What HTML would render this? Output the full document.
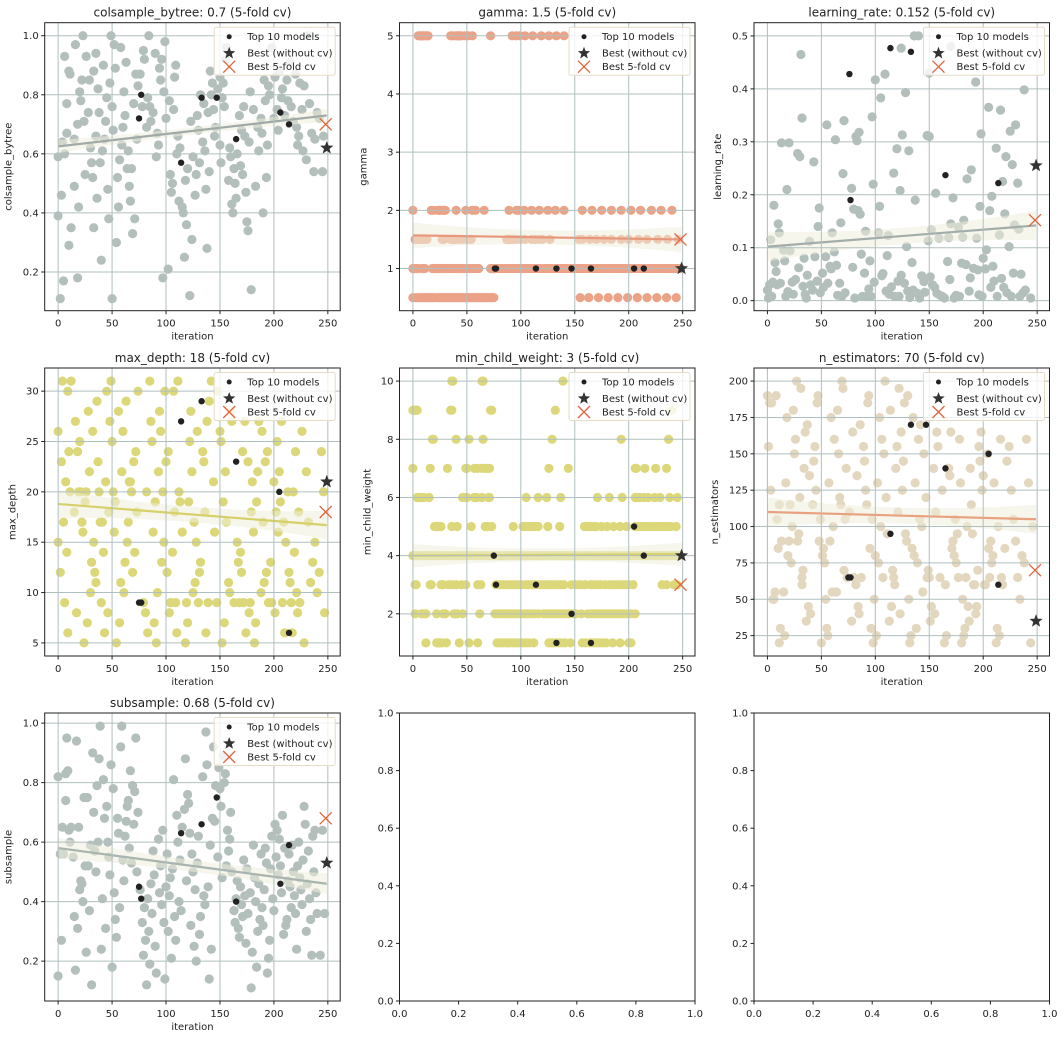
<!DOCTYPE html>
<html><head><meta charset="utf-8">
<style>
html,body{margin:0;padding:0;background:#fff;}
svg{display:block;font-family:"DejaVu Sans","Liberation Sans",sans-serif;}
</style></head>
<body>
<svg id="fig" width="1064" height="1039" viewBox="0 0 1064 1039" xmlns="http://www.w3.org/2000/svg"></svg>
<script>
// ---------- data ----------
const xTicks = [0,50,100,150,200,250];
const p1Points = [[0,0.39],[0,0.59],[2,0.11],[3,0.46],[4,0.64],[5,0.17],[6,0.93],[6,0.60],[8,0.77],[8,0.67],[10,0.29],[10,0.88],[11,0.87],[12,0.35],[15,0.65],[15,0.49],[16,0.97],[18,0.70],[18,0.18],[19,0.42],[20,0.81],[21,0.78],[22,0.85],[23,1.0],[24,0.71],[25,0.53],[26,0.93],[28,0.74],[29,0.85],[30,0.62],[31,0.57],[32,0.52],[33,0.88],[33,0.35],[35,0.94],[35,0.66],[36,0.45],[37,0.82],[38,0.74],[39,0.57],[40,0.24],[41,0.61],[42,0.90],[43,0.65],[44,0.71],[45,0.79],[46,0.48],[47,0.38],[48,0.84],[49,1.0],[50,0.76],[50,0.11],[51,0.68],[52,0.97],[53,0.89],[54,0.30],[55,0.52],[56,0.42],[57,0.58],[58,0.96],[59,0.63],[60,0.69],[61,0.81],[62,0.73],[63,0.91],[64,0.55],[65,0.61],[66,0.49],[67,0.44],[68,0.55],[69,0.33],[70,0.77],[71,0.38],[72,0.87],[73,0.65],[74,0.83],[76,0.87],[78,0.76],[79,0.95],[80,0.92],[82,0.69],[83,0.79],[84,1.0],[85,0.76],[86,0.71],[88,0.74],[90,0.94],[91,0.59],[92,0.67],[93,0.63],[94,0.89],[95,0.85],[96,0.92],[97,0.18],[98,0.81],[99,0.98],[100,0.72],[102,0.21],[103,0.78],[104,0.53],[105,0.47],[106,0.50],[107,0.75],[108,0.86],[109,0.90],[110,0.60],[111,0.66],[112,0.44],[113,0.62],[115,0.42],[116,0.40],[117,0.25],[118,0.51],[119,0.36],[120,0.55],[122,0.12],[123,0.71],[124,0.31],[125,0.59],[127,0.46],[128,0.53],[129,0.73],[130,0.68],[131,0.57],[132,0.80],[134,0.64],[135,0.77],[136,0.61],[137,0.48],[138,0.28],[139,0.74],[140,0.54],[141,0.88],[142,0.80],[143,0.84],[144,0.75],[145,0.66],[146,0.69],[148,0.82],[150,0.86],[150,0.63],[151,0.57],[152,0.79],[153,0.84],[154,0.76],[155,0.92],[156,0.96],[158,0.51],[159,0.62],[160,0.59],[161,0.43],[162,0.40],[163,0.55],[164,0.50],[165,0.45],[166,0.60],[168,0.73],[169,0.56],[170,0.68],[171,0.53],[172,0.76],[173,0.66],[174,0.47],[175,0.37],[176,0.34],[177,0.64],[178,0.81],[179,0.14],[181,0.75],[183,0.49],[185,0.69],[186,0.61],[188,0.72],[189,0.67],[190,0.40],[191,0.85],[192,0.78],[193,0.52],[194,0.63],[195,0.83],[196,0.80],[198,0.96],[200,0.72],[201,0.86],[203,0.75],[204,0.68],[205,0.88],[207,0.79],[208,0.82],[210,0.73],[212,0.85],[213,0.78],[215,0.91],[216,0.76],[218,0.71],[220,0.87],[221,0.69],[222,0.63],[223,0.66],[224,0.84],[226,0.75],[227,0.61],[228,0.83],[230,0.58],[232,1.0],[233,0.77],[235,0.67],[237,0.54],[238,0.65],[240,0.74],[242,0.72],[245,0.54],[246,0.66]];
const p1Top = [[75,0.72],[77,0.80],[114,0.57],[133,0.79],[147,0.79],[165,0.65],[206,0.74],[214,0.70]];

const gammaLevel5 = [5,6,7,8,9,10,12,13,14,35,36,38,40,41,42,43,44,45,48,51,55,72,92,96,99,104,111,119,126,133,140];
const gammaLevel2 = [0,17,19,23,24,25,26,28,29,30,40,49,55,58,66,89,96,98,103,110,117,125,132,140,157,166,175,184,193,202,211,221,230,240];
const gammaLevel15 = [2,3,4,5,6,8,9,10,11,13,27,28,29,35,36,38,39,40,43,46,50,53,54,87,88,89,91,93,96,100,104,110,113,117,120,127,154,157,164,170,177,184,193,200,209,217,227,236,246];
const gammaLevel1 = [0,1,2,3,5,9,11,18,19,20,21,23,25,27,29,31,33,35,38,40,42,45,47,50,53,56,58,61,72,74,76,78,80,83,86,89,92,95,98,101,104,107,110,113,116,119,122,125,128,131,134,137,140,143,146,149,152,155,158,161,164,167,170,173,176,179,182,185,188,191,194,197,200,203,206,209,212,215,218,221,224,227,230,233,236,239,242,245,248];
const gammaLevel05 = [0,3,6,8,10,12,14,16,18,20,23,25,27,29,31,33,35,37,39,41,43,45,47,49,51,53,55,57,59,61,63,65,67,69,71,73,75,155,163,172,181,190,199,208,217,226,235,244];
const p2Top = [[76,1],[77,1],[114,1],[133,1],[147,1],[165,1],[205,1],[214,1]];

const p3Points = [[0,0.02],[1,0.005],[2,0.03],[3,0.115],[4,0.008],[5,0.035],[6,0.18],[7,0.072],[8,0.055],[9,0.03],[10,0.145],[11,0.128],[12,0.033],[13,0.298],[15,0.095],[16,0.075],[17,0.008],[18,0.21],[19,0.017],[20,0.298],[21,0.094],[23,0.035],[24,0.012],[26,0.04],[28,0.278],[29,0.062],[30,0.272],[31,0.465],[32,0.345],[33,0.027],[34,0.08],[35,0.012],[36,0.005],[37,0.048],[39,0.112],[40,0.03],[42,0.02],[43,0.262],[44,0.083],[46,0.037],[47,0.14],[48,0.175],[49,0.015],[51,0.052],[52,0.025],[54,0.083],[55,0.332],[56,0.033],[58,0.065],[59,0.06],[60,0.128],[62,0.092],[63,0.304],[64,0.067],[65,0.01],[67,0.033],[68,0.147],[69,0.008],[70,0.24],[71,0.34],[72,0.015],[78,0.212],[79,0.063],[80,0.173],[81,0.005],[82,0.31],[83,0.302],[84,0.17],[85,0.318],[86,0.163],[87,0.088],[88,0.008],[90,0.052],[91,0.131],[92,0.008],[94,0.022],[95,0.075],[96,0.008],[97,0.347],[98,0.22],[99,0.035],[100,0.417],[103,0.128],[104,0.178],[105,0.383],[106,0.047],[107,0.051],[109,0.428],[110,0.018],[111,0.085],[112,0.123],[113,0.012],[115,0.026],[117,0.241],[118,0.008],[120,0.287],[121,0.037],[122,0.008],[123,0.208],[124,0.048],[125,0.313],[127,0.033],[128,0.393],[129,0.102],[130,0.018],[131,0.283],[132,0.006],[134,0.072],[135,0.02],[136,0.5],[137,0.19],[139,0.014],[141,0.005],[143,0.047],[145,0.036],[146,0.016],[148,0.312],[149,0.113],[150,0.31],[151,0.045],[152,0.134],[153,0.03],[155,0.025],[156,0.203],[157,0.014],[159,0.118],[160,0.01],[162,0.008],[164,0.005],[167,0.074],[168,0.119],[169,0.04],[170,0.145],[172,0.194],[173,0.005],[175,0.01],[177,0.139],[178,0.008],[180,0.071],[181,0.12],[182,0.152],[184,0.068],[185,0.23],[187,0.018],[188,0.043],[189,0.247],[191,0.061],[193,0.413],[194,0.118],[195,0.058],[196,0.011],[197,0.178],[198,0.315],[199,0.008],[200,0.08],[202,0.06],[203,0.096],[205,0.365],[206,0.17],[207,0.025],[208,0.197],[209,0.065],[210,0.037],[212,0.288],[213,0.008],[215,0.124],[216,0.36],[217,0.042],[218,0.225],[219,0.025],[220,0.164],[221,0.272],[222,0.015],[224,0.102],[225,0.32],[226,0.008],[227,0.257],[228,0.052],[229,0.143],[230,0.332],[232,0.222],[233,0.135],[234,0.008],[235,0.05],[237,0.015],[238,0.398],[239,0.02],[244,0.005],[124,0.477],[140,0.5],[150,0.43],[170,0.48]];
const p3Top = [[76,0.428],[77,0.19],[114,0.477],[133,0.47],[165,0.237],[214,0.222]];

const p4Points = [[0,26],[0,15],[2,12],[3,23],[4,31],[5,17],[6,9],[7,21],[8,14],[9,6],[9,30],[10,24],[11,20],[12,31],[15,18],[16,27],[17,8],[18,24],[19,20],[20,25],[21,20],[22,17],[23,16],[24,5],[25,19],[26,20],[27,7],[28,28],[29,22],[30,10],[31,13],[32,26],[33,15],[34,12],[35,11],[36,29],[37,23],[38,20],[39,17],[40,9],[41,17],[42,14],[43,6],[44,21],[45,30],[46,8],[47,18],[48,27],[49,31],[50,25],[51,20],[52,16],[53,19],[54,5],[56,28],[57,7],[58,11],[59,22],[60,26],[61,10],[62,13],[63,29],[64,15],[65,17],[66,21],[67,21],[68,20],[69,12],[70,23],[71,14],[72,24],[73,18],[74,30],[79,9],[81,8],[82,20],[83,6],[85,31],[86,27],[87,25],[88,16],[89,7],[90,19],[91,5],[92,10],[93,22],[94,28],[95,26],[96,13],[97,20],[98,15],[99,30],[100,23],[101,12],[102,24],[103,8],[104,9],[105,9],[106,14],[107,30],[108,18],[109,9],[110,6],[111,31],[112,20],[113,19],[115,16],[118,5],[119,9],[120,7],[121,19],[122,25],[123,28],[124,22],[125,10],[126,17],[127,11],[128,15],[129,26],[130,9],[131,12],[132,13],[134,24],[135,23],[136,18],[137,6],[138,27],[139,9],[140,29],[142,31],[144,21],[145,16],[147,9],[148,30],[150,26],[151,25],[152,5],[153,19],[154,7],[155,22],[156,17],[158,11],[159,10],[160,28],[161,27],[163,9],[166,15],[167,13],[168,9],[169,14],[170,12],[171,24],[172,9],[173,27],[174,6],[176,23],[177,8],[178,9],[179,18],[180,21],[181,16],[182,5],[183,7],[184,19],[185,22],[186,27],[188,10],[189,26],[190,17],[191,11],[192,23],[193,12],[194,24],[195,9],[197,13],[198,9],[200,21],[201,8],[202,18],[203,25],[204,16],[205,22],[206,19],[207,27],[208,9],[209,17],[210,6],[211,15],[213,20],[214,12],[215,11],[216,9],[217,6],[218,20],[219,14],[220,24],[221,10],[222,8],[223,18],[224,9],[226,26],[228,5],[230,22],[232,17],[234,11],[236,13],[238,15],[240,10],[242,12],[244,24],[246,20],[247,8]];
const p4Top = [[75,9],[77,9],[114,27],[133,29],[165,23],[205,20],[214,6]];

const mcwLevel10 = [36,37,64,65,139];
const mcwLevel9 = [0,1,2,3,4,35,36,72,73,132,240];
const mcwLevel8 = [18,19,40,52,65,129,193,237];
const mcwLevel7 = [0,16,32,49,50,57,60,64,67,69,71,126,144,206,207,215,225,235];
const mcwLevel6 = [4,5,6,7,8,9,10,15,46,48,50,57,59,64,70,71,105,116,124,137,171,182,194,206,207,210,214,218,224,229,238,245];
const mcwLevel5 = [20,21,22,23,24,25,26,36,41,54,67,69,73,93,102,104,106,108,110,112,114,116,125,136,159,161,163,165,168,170,175,180,186,192,198,206,209,212,215,218,221,224,227,230,233,236,239,244];
const mcwLevel4 = [0,2,4,7,10,13,16,19,22,25,28,31,34,37,40,43,46,49,52,55,58,61,64,67,70,73,76,79,82,85,88,91,94,97,100,103,106,109,112,115,118,121,124,127,130,133,136,139,142,145,148,151,154,157,160,163,166,169,172,175,178,181,184,187,190,193,196,199,202,205,208,211,214,217,220,223,226,229,232,235,238,241,244,247];
const mcwLevel3 = [2,3,16,17,26,27,28,33,36,40,45,49,60,63,77,80,83,86,89,92,95,98,101,105,107,110,113,116,119,122,125,128,131,134,137,140,147,150,153,156,160,165,168,171,174,178,182,185,188,191,194,197,200,204,231,235,242,245];
const mcwLevel2 = [2,8,9,11,12,22,28,30,38,39,41,46,62,76,79,82,85,88,91,94,97,100,103,106,109,112,116,121,124,127,130,133,136,139,142,145,148,151,156,162,165,168,171,174,177,180,183,186,189,192,195,198,202,206];
const mcwLevel1 = [12,22,23,24,25,27,31,43,52,60,78,81,84,87,90,93,96,99,102,105,108,112,126,129,132,135,138,141,146,157,160,164,167,170,173,176,179,185,192,200,202];
const p5Top = [[75,4],[77,3],[114,3],[133,1],[147,2],[165,1],[205,5],[214,4]];

const p6Points = [[0,190],[1,155],[2,185],[3,125],[4,185],[5,50],[6,50],[7,55],[8,190],[9,105],[10,85],[11,115],[11,20],[12,30],[13,90],[15,55],[16,25],[17,130],[18,175],[19,80],[20,90],[21,115],[22,75],[23,100],[24,180],[25,150],[26,160],[27,200],[28,90],[29,95],[30,120],[31,195],[32,65],[32,60],[33,70],[34,140],[35,165],[36,35],[37,170],[38,45],[39,135],[40,40],[42,115],[43,145],[44,155],[45,125],[46,185],[47,190],[48,90],[49,105],[50,20],[51,80],[52,85],[53,75],[54,50],[55,30],[56,25],[57,130],[58,90],[59,175],[60,55],[61,100],[62,160],[63,55],[64,55],[65,180],[66,150],[67,120],[68,115],[69,200],[70,195],[71,70],[72,105],[73,140],[74,65],[76,110],[78,35],[79,165],[80,65],[82,60],[83,135],[84,45],[85,40],[86,170],[87,65],[89,155],[90,145],[91,125],[92,115],[93,185],[94,190],[95,85],[96,30],[97,105],[98,20],[99,50],[100,80],[101,25],[102,130],[103,75],[104,175],[105,100],[106,160],[107,65],[108,150],[109,200],[110,120],[111,95],[113,35],[114,180],[115,45],[116,70],[117,65],[118,60],[119,140],[120,155],[121,110],[122,195],[123,40],[124,165],[125,125],[126,145],[127,185],[128,95],[129,90],[130,190],[131,50],[132,20],[133,25],[134,85],[135,175],[136,80],[137,130],[138,30],[139,75],[140,160],[141,105],[142,170],[143,100],[144,55],[145,150],[147,120],[148,65],[149,70],[150,65],[151,35],[152,45],[154,140],[155,40],[156,110],[157,165],[158,155],[160,65],[162,125],[164,20],[165,60],[166,25],[167,140],[168,140],[169,135],[170,165],[171,85],[172,90],[173,80],[174,105],[175,75],[176,95],[177,65],[178,160],[179,130],[180,20],[181,50],[182,25],[183,30],[184,65],[185,100],[186,45],[187,35],[188,140],[189,115],[190,95],[191,60],[192,60],[193,40],[194,45],[195,70],[196,155],[197,145],[198,165],[199,125],[200,135],[201,60],[202,60],[204,150],[205,85],[206,65],[207,90],[208,75],[209,80],[210,130],[212,20],[213,30],[214,100],[215,25],[216,160],[217,65],[218,60],[220,85],[222,145],[224,155],[226,125],[228,105],[230,90],[232,65],[234,50],[236,80],[238,75],[240,160],[242,130],[244,20],[246,100]];
const p6Top = [[75,65],[77,65],[114,95],[133,170],[147,170],[165,140],[205,150],[214,60]];

const p7Points = [[0,0.82],[0,0.15],[2,0.56],[3,0.27],[4,0.65],[5,0.56],[7,0.74],[7,0.83],[8,0.95],[9,0.84],[10,0.64],[11,0.60],[12,0.65],[14,0.55],[15,0.35],[16,0.17],[17,0.94],[18,0.31],[19,0.65],[20,0.44],[21,0.47],[22,0.46],[23,0.40],[24,0.75],[25,0.52],[26,0.23],[27,0.75],[28,0.52],[29,0.37],[30,0.59],[31,0.12],[32,0.90],[33,0.70],[34,0.57],[35,0.50],[36,0.79],[37,0.60],[38,0.88],[39,0.99],[40,0.24],[41,0.41],[42,0.81],[43,0.68],[44,0.31],[45,0.72],[46,0.60],[47,0.55],[48,0.49],[49,0.86],[50,0.18],[51,0.78],[52,0.43],[53,0.34],[54,0.28],[55,0.68],[56,0.63],[57,0.38],[58,0.92],[59,0.99],[60,0.54],[61,0.47],[62,0.62],[63,0.67],[64,0.72],[65,0.74],[66,0.58],[67,0.84],[68,0.53],[69,0.79],[70,0.66],[71,0.77],[72,0.95],[73,0.50],[74,0.70],[76,0.44],[78,0.33],[79,0.22],[80,0.38],[81,0.27],[82,0.12],[83,0.41],[84,0.30],[85,0.19],[86,0.46],[87,0.36],[88,0.57],[89,0.49],[90,0.25],[91,0.16],[93,0.61],[94,0.43],[95,0.52],[96,0.39],[97,0.64],[98,0.33],[99,0.14],[100,0.45],[101,0.56],[102,0.30],[103,0.42],[104,0.48],[105,0.21],[106,0.51],[107,0.81],[108,0.35],[109,0.27],[110,0.69],[111,0.60],[112,0.40],[113,0.54],[114,0.37],[115,0.65],[117,0.71],[118,0.88],[119,0.47],[120,0.76],[121,0.73],[122,0.63],[123,0.32],[124,0.56],[125,0.50],[126,0.25],[127,0.44],[128,0.20],[129,0.53],[130,0.62],[131,0.29],[132,0.35],[134,0.82],[135,0.42],[136,0.39],[137,0.97],[138,0.86],[139,0.45],[140,0.14],[141,0.59],[142,0.24],[143,0.68],[144,0.92],[145,0.67],[146,0.79],[148,0.55],[149,0.85],[150,0.78],[151,0.72],[152,0.48],[153,0.89],[154,0.80],[155,0.83],[156,0.52],[157,0.64],[158,0.57],[159,0.61],[160,0.70],[161,0.50],[163,0.37],[164,0.33],[165,0.41],[166,0.47],[167,0.31],[168,0.28],[169,0.45],[170,0.39],[171,0.35],[172,0.54],[173,0.42],[174,0.26],[175,0.51],[176,0.36],[178,0.43],[179,0.11],[180,0.23],[181,0.59],[182,0.48],[183,0.40],[184,0.18],[185,0.30],[186,0.46],[187,0.34],[188,0.56],[189,0.38],[190,0.32],[191,0.44],[192,0.58],[193,0.53],[194,0.16],[195,0.21],[196,0.27],[197,0.51],[198,0.62],[199,0.41],[200,0.37],[201,0.66],[202,0.55],[203,0.64],[204,0.49],[205,0.61],[206,0.52],[207,0.43],[208,0.69],[209,0.29],[210,0.58],[211,0.32],[212,0.34],[213,0.47],[214,0.56],[215,0.45],[216,0.38],[217,0.59],[218,0.50],[219,0.42],[220,0.36],[221,0.24],[222,0.52],[223,0.60],[224,0.48],[225,0.44],[226,0.39],[227,0.54],[228,0.72],[229,0.66],[230,0.30],[231,0.46],[232,0.57],[233,0.41],[234,0.34],[235,0.22],[236,0.62],[237,0.50],[238,0.64],[239,0.43],[240,0.36],[243,0.22],[245,0.64],[247,0.36]];
const p7Top = [[75,0.45],[77,0.41],[114,0.63],[133,0.66],[147,0.75],[165,0.40],[206,0.46],[214,0.59]];

const bestWithoutCv = [0.62, 1, 0.255, 21, 4, 35, 0.53];
const bestCv = [0.70, 1.5, 0.152, 18, 3, 70, 0.68];
const trendStart = [0.625, 1.57, 0.102, 18.8, 4.0, 110, 0.58];
const trendEnd = [0.73, 1.50, 0.142, 16.7, 4.05, 105, 0.46];
const bandHalf = [0.022, 0.22, 0.028, 1.4, 0.4, 10, 0.035];
const titles = ["colsample_bytree: 0.7 (5-fold cv)","gamma: 1.5 (5-fold cv)","learning_rate: 0.152 (5-fold cv)","max_depth: 18 (5-fold cv)","min_child_weight: 3 (5-fold cv)","n_estimators: 70 (5-fold cv)","subsample: 0.68 (5-fold cv)"];
const yLabels = ["colsample_bytree","gamma","learning_rate","max_depth","min_child_weight","n_estimators","subsample"];
const yTickVals = [[0.2,0.4,0.6,0.8,1.0],[1,2,3,4,5],[0,0.1,0.2,0.3,0.4,0.5],[5,10,15,20,25,30],[2,4,6,8,10],[25,50,75,100,125,150,175,200],[0.2,0.4,0.6,0.8,1.0]];
const emptyTicks = [0,0.2,0.4,0.6,0.8,1.0];

// ---------- layout ----------
const NS = "http://www.w3.org/2000/svg";
const svg = document.getElementById('fig');
const colL = [44.7, 399.5, 754];
const rowT = [22.7, 368, 713];
const AW = 295.5, AH = 288;
const yLims = [[0.069,1.044],[0.275,5.225],[-0.019,0.525],[3.7,32.3],[0.55,10.45],[11,209],[0.066,1.034]];
const xLim = [-12.45, 261.45];
const colors = ["#b3bfbb","#eba286","#b3bfbb","#dcd779","#dcd779","#e4d7bf","#b3bfbb"];
const lineColors = ["#9fa9a5","#e9977a","#a3aeab","#d6d069","#d6d069","#e8a27f","#a8b4b0"];
const yFmt = [v=>v.toFixed(1),v=>String(v),v=>v.toFixed(1),v=>String(v),v=>String(v),v=>String(v),v=>v.toFixed(1)];

function el(tag, attrs, parent){const e=document.createElementNS(NS,tag);for(const k in attrs)e.setAttribute(k,attrs[k]);(parent||svg).appendChild(e);return e;}
function txt(s, attrs, parent){const t=el('text',attrs,parent);t.textContent=s;return t;}
function starPath(cx,cy,R){const r=R*0.42;let d='';for(let i=0;i<10;i++){const a=-Math.PI/2+i*Math.PI/5;const rr=i%2?r:R;d+=(i?'L':'M')+(cx+rr*Math.cos(a)).toFixed(2)+','+(cy+rr*Math.sin(a)).toFixed(2);}return d+'Z';}

function drawPanel(i, points){
  const L=colL[i%3], T=rowT[Math.floor(i/3)];
  const yl=yLims[i];
  const sx=v=>L+(v-xLim[0])/(xLim[1]-xLim[0])*AW;
  const sy=v=>T+AH-(v-yl[0])/(yl[1]-yl[0])*AH;
  const g=el('g',{});
  
  
  const clipId='clip'+i;
  const cp=el('clipPath',{id:clipId},g); el('rect',{x:L,y:T,width:AW,height:AH},cp);
  const plot=el('g',{'clip-path':'url(#'+clipId+')'},g);
  // points
  const pts=el('g',{},plot);
  
  
  points.forEach(p=>{const c=el('circle',{cx:sx(p[0]).toFixed(1),cy:sy(p[1]).toFixed(1),r:4.6,fill:colors[i]},pts);});
  // band
  const s0=trendStart[i], s1=trendEnd[i], h=bandHalf[i];
  const n=20; let top=[],bot=[];
  for(let k=0;k<=n;k++){const x=249*k/n;const v=s0+(s1-s0)*k/n;const w=h*(0.55+0.45*Math.pow(Math.abs(k/n-0.5)*2,2));top.push(sx(x).toFixed(1)+','+sy(v+w).toFixed(1));bot.unshift(sx(x).toFixed(1)+','+sy(v-w).toFixed(1));}
  const band=el('polygon',{points:top.concat(bot).join(' '),fill:'#eeeedc','fill-opacity':0.55},plot);
  
  
  const ln=el('line',{x1:sx(0),y1:sy(s0),x2:sx(249),y2:sy(s1),stroke:lineColors[i],'stroke-width':2.2},plot);
  
  
  // grid
  xTicks.forEach(t=>el('line',{x1:sx(t),x2:sx(t),y1:T,y2:T+AH,stroke:'#b0bfbf','stroke-width':1},plot));
  yTickVals[i].forEach(t=>el('line',{x1:L,x2:L+AW,y1:sy(t),y2:sy(t),stroke:'#b0bfbf','stroke-width':1},plot));
  return {g,plot,sx,sy,L,T};
}

function finishPanel(i, P, top){
  const {g,plot,sx,sy,L,T}=P;
  top.forEach(p=>{const c=el('circle',{cx:sx(p[0]),cy:sy(p[1]),r:3.2,fill:'#222'},plot);
    
    });
  const st=el('path',{d:starPath(sx(249),sy(bestWithoutCv[i]),7),fill:'#333'},plot);
  
  
  const bx=sx(248), by=sy(bestCv[i]);
  const xm=el('path',{d:`M${bx-6},${by-6}L${bx+6},${by+6}M${bx-6},${by+6}L${bx+6},${by-6}`,stroke:'#e0643c','stroke-width':1.3,fill:'none'},plot);
  
  
  // frame
  el('rect',{x:L,y:T,width:AW,height:AH,fill:'none',stroke:'#222','stroke-width':1},g);
  // x ticks
  xTicks.forEach(t=>{el('line',{x1:sx(t),x2:sx(t),y1:T+AH,y2:T+AH+3.5,stroke:'#222'},g);
    const tl=txt(String(t),{x:sx(t),y:T+AH+16,'font-size':10,'text-anchor':'middle',fill:'#222'},g);
    
    });
  yTickVals[i].forEach(t=>{el('line',{x1:L-3.5,x2:L,y1:sy(t),y2:sy(t),stroke:'#222'},g);
    const tl=txt(yFmt[i](t),{x:L-6,y:sy(t)+3.5,'font-size':10,'text-anchor':'end',fill:'#222'},g);
    
    });
  const tt=txt(titles[i],{x:L+AW/2,y:T-6,'font-size':12,'text-anchor':'middle',fill:'#222'},g);
  
  
  const xl=txt('iteration',{x:L+AW/2,y:T+AH+29,'font-size':10,'text-anchor':'middle',fill:'#222'},g);
  
  
  const ylx = L-(i===5?36:(i===3||i===4?29:33));
  const yl=txt(yLabels[i],{x:ylx,y:T+AH/2,'font-size':10,'text-anchor':'middle',fill:'#222',transform:`rotate(-90 ${ylx} ${T+AH/2})`},g);
  
  
  // legend
  const R=L+AW;
  const lg=el('g',{},g);
  
  
  el('rect',{x:R-126,y:T+4.5,width:121,height:48,rx:2,fill:'#fff','fill-opacity':0.8,stroke:'#e6dcc6','stroke-width':1},lg);
  el('circle',{cx:R-111,cy:T+14,r:2.5,fill:'#222'},lg);
  el('path',{d:starPath(R-111,T+30.5,6.5),fill:'#333'},lg);
  el('path',{d:`M${R-117},${T+38}L${R-105},${T+50}M${R-117},${T+50}L${R-105},${T+38}`,stroke:'#e0643c','stroke-width':1.3},lg);
  const labs=['Top 10 models','Best (without cv)','Best 5-fold cv'];
  [17.5,34,47.5].forEach((dy,k)=>{const t=txt(labs[k],{x:R-93,y:T+dy,'font-size':10,fill:'#222'},lg);
    
    });
}

function levelPoints(levels, vals){const out=[];levels.forEach((arr,k)=>arr.forEach(x=>out.push([x,vals[k]])));return out;}

const panelPoints = [
  p1Points,
  levelPoints([gammaLevel5,gammaLevel2,gammaLevel15,gammaLevel1,gammaLevel05],[5,2,1.5,1,0.5]),
  p3Points,
  p4Points,
  levelPoints([mcwLevel10,mcwLevel9,mcwLevel8,mcwLevel7,mcwLevel6,mcwLevel5,mcwLevel4,mcwLevel3,mcwLevel2,mcwLevel1],[10,9,8,7,6,5,4,3,2,1]),
  p6Points,
  p7Points
];
const panelTop=[p1Top,p2Top,p3Top,p4Top,p5Top,p6Top,p7Top];
for(let i=0;i<7;i++){const P=drawPanel(i,panelPoints[i]);finishPanel(i,P,panelTop[i]);}

// empty panels
[7,8].forEach(i=>{
  const L=colL[i%3], T=rowT[2];
  const g=el('g',{});
  
  
  el('rect',{x:L,y:T,width:AW,height:AH,fill:'none',stroke:'#222','stroke-width':1},g);
  emptyTicks.forEach(t=>{
    const x=L+t*AW, y=T+AH-t*AH;
    el('line',{x1:x,x2:x,y1:T+AH,y2:T+AH+3.5,stroke:'#222'},g);
    const a=txt(t.toFixed(1),{x:x,y:T+AH+16,'font-size':10,'text-anchor':'middle',fill:'#222'},g);
    
    
    el('line',{x1:L-3.5,x2:L,y1:y,y2:y,stroke:'#222'},g);
    const b=txt(t.toFixed(1),{x:L-6,y:y+3.5,'font-size':10,'text-anchor':'end',fill:'#222'},g);
    
    
  });
});
</script>
</body></html>
